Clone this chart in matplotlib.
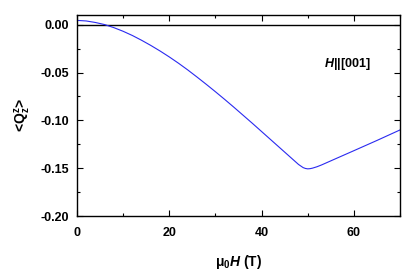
import numpy as np
import matplotlib.pyplot as plt
from matplotlib.ticker import MultipleLocator

plt.rcParams['font.family'] = ['Liberation Sans', 'DejaVu Sans']
plt.rcParams['font.weight'] = 'bold'
plt.rcParams['mathtext.fontset'] = 'custom'
plt.rcParams['mathtext.rm'] = 'Liberation Sans:bold'
plt.rcParams['mathtext.bf'] = 'Liberation Sans:bold'
plt.rcParams['mathtext.it'] = 'Liberation Sans:italic:bold'
plt.rcParams['mathtext.default'] = 'bf'

# field (T) and <Qzz>
H = [0, 2, 4, 6, 8, 10, 12, 14, 16, 18, 20, 22, 24, 26, 28, 30, 32, 34, 36, 38,
     40, 42, 44, 46, 48, 49, 49.5, 50, 50.5, 51, 52, 53, 56, 60, 65, 70]
Q = [0.0045, 0.0039, 0.0023, 0.0001, -0.0031, -0.0069, -0.0113, -0.0163, -0.0217,
     -0.0275, -0.0337, -0.0403, -0.0473, -0.0547, -0.0623, -0.0701, -0.0781, -0.0863,
     -0.0947, -0.1031, -0.1117, -0.1203, -0.1289, -0.1375, -0.1461, -0.1494, -0.1503,
     -0.1507, -0.1505, -0.1500, -0.1485, -0.1466, -0.1402, -0.1317, -0.1210, -0.1100]

fig = plt.figure(figsize=(4.15, 2.75), dpi=100)
ax = fig.add_axes([0.1855, 0.2145, 0.7785, 0.7305])

ax.axhline(0, color='black', lw=1.0)
ax.plot(H, Q, color='#2a2af0', lw=0.8)

ax.set_xlim(0, 70)
ax.set_ylim(-0.20, 0.01)
ax.xaxis.set_major_locator(MultipleLocator(20))
ax.xaxis.set_minor_locator(MultipleLocator(10))
ax.yaxis.set_major_locator(MultipleLocator(0.05))
ax.yaxis.set_minor_locator(MultipleLocator(0.025))
ax.yaxis.set_major_formatter(plt.FuncFormatter(lambda v, p: '%.2f' % v))
ax.tick_params(which='both', direction='in', top=True, right=True, labelsize=9, width=0.8)
ax.tick_params(which='major', length=4)
ax.tick_params(which='minor', length=2.5)
ax.tick_params(axis='x', which='major', pad=8)
ax.tick_params(axis='y', which='major', pad=6)
for s in ax.spines.values():
    s.set_linewidth(1.0)

ax.set_xlabel(r'$\mu_0$' + r'$\mathit{H}$ (T)', fontsize=10, fontweight='bold', labelpad=10)
ax.set_ylabel(r'<Q$_z^z$>', fontsize=10, fontweight='bold', labelpad=5)
ax.text(63.5, -0.041, r'$\mathit{H}$||[001]', fontsize=9, fontweight='bold',
        ha='right', va='center')

fig.savefig('out.png', dpi=100)
